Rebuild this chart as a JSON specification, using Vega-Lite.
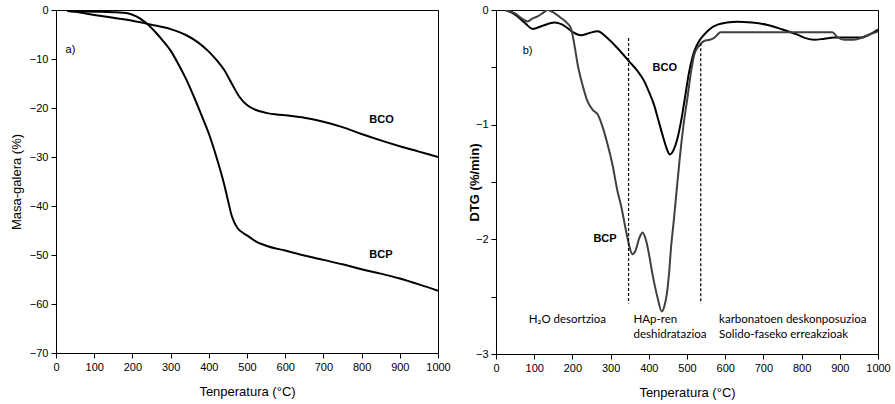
{
  "$schema": "https://vega.github.io/schema/vega-lite/v6.json",
  "background": "white",
  "padding": {"left": 9, "top": 3, "right": 5, "bottom": 2},
  "bounds": "flush",
  "spacing": 58,
  "config": {
    "view": {"stroke": "black", "strokeWidth": 1},
    "axis": {
      "labelFont": "Liberation Sans", "labelFontSize": 11, "labelColor": "black", "labelOverlap": false, "labelFlush": false,
      "titleFont": "Liberation Sans", "titleFontSize": 13, "titleColor": "black", "titleFontWeight": "normal",
      "domainColor": "black", "tickColor": "black", "tickSize": 5, "grid": false, "labelPadding": 3
    },
    "text": {"font": "Liberation Sans", "fontSize": 11, "color": "black"}
  },
  "datasets": {
    "tg": [
      {"T": 30, "v": -0.2, "s": "BCO"}, {"T": 50, "v": -0.35, "s": "BCO"}, {"T": 100, "v": -1.0, "s": "BCO"},
      {"T": 150, "v": -1.6, "s": "BCO"}, {"T": 200, "v": -2.2, "s": "BCO"}, {"T": 250, "v": -3.0, "s": "BCO"},
      {"T": 300, "v": -3.9, "s": "BCO"}, {"T": 340, "v": -5.1, "s": "BCO"}, {"T": 370, "v": -6.5, "s": "BCO"},
      {"T": 400, "v": -8.5, "s": "BCO"}, {"T": 420, "v": -10.2, "s": "BCO"}, {"T": 440, "v": -12.2, "s": "BCO"},
      {"T": 460, "v": -15.0, "s": "BCO"}, {"T": 480, "v": -17.7, "s": "BCO"}, {"T": 500, "v": -19.4, "s": "BCO"},
      {"T": 520, "v": -20.3, "s": "BCO"}, {"T": 550, "v": -21.0, "s": "BCO"}, {"T": 600, "v": -21.5, "s": "BCO"},
      {"T": 650, "v": -22.0, "s": "BCO"}, {"T": 700, "v": -22.8, "s": "BCO"}, {"T": 750, "v": -23.9, "s": "BCO"},
      {"T": 800, "v": -25.3, "s": "BCO"}, {"T": 850, "v": -26.6, "s": "BCO"}, {"T": 900, "v": -27.8, "s": "BCO"},
      {"T": 950, "v": -28.9, "s": "BCO"}, {"T": 1000, "v": -30.0, "s": "BCO"},
      {"T": 30, "v": -0.2, "s": "BCP"}, {"T": 100, "v": -0.35, "s": "BCP"}, {"T": 150, "v": -0.45, "s": "BCP"},
      {"T": 190, "v": -0.7, "s": "BCP"}, {"T": 210, "v": -1.3, "s": "BCP"}, {"T": 225, "v": -2.0, "s": "BCP"},
      {"T": 240, "v": -2.9, "s": "BCP"}, {"T": 260, "v": -4.5, "s": "BCP"}, {"T": 280, "v": -6.3, "s": "BCP"},
      {"T": 300, "v": -8.3, "s": "BCP"}, {"T": 320, "v": -11.0, "s": "BCP"}, {"T": 340, "v": -14.0, "s": "BCP"},
      {"T": 360, "v": -17.5, "s": "BCP"}, {"T": 380, "v": -21.3, "s": "BCP"}, {"T": 400, "v": -25.2, "s": "BCP"},
      {"T": 420, "v": -30.0, "s": "BCP"}, {"T": 440, "v": -35.5, "s": "BCP"}, {"T": 450, "v": -38.8, "s": "BCP"},
      {"T": 460, "v": -42.0, "s": "BCP"}, {"T": 475, "v": -44.5, "s": "BCP"}, {"T": 490, "v": -45.5, "s": "BCP"},
      {"T": 500, "v": -46.0, "s": "BCP"}, {"T": 525, "v": -47.3, "s": "BCP"}, {"T": 550, "v": -48.1, "s": "BCP"},
      {"T": 600, "v": -49.1, "s": "BCP"}, {"T": 650, "v": -50.1, "s": "BCP"}, {"T": 700, "v": -51.0, "s": "BCP"},
      {"T": 750, "v": -51.9, "s": "BCP"}, {"T": 800, "v": -52.9, "s": "BCP"}, {"T": 850, "v": -53.8, "s": "BCP"},
      {"T": 900, "v": -54.8, "s": "BCP"}, {"T": 950, "v": -56.0, "s": "BCP"}, {"T": 1000, "v": -57.3, "s": "BCP"}
    ],
    "dtg": [
      {"T": 25, "v": 0, "s": "BCO"}, {"T": 50, "v": -0.04, "s": "BCO"}, {"T": 75, "v": -0.11, "s": "BCO"},
      {"T": 96, "v": -0.165, "s": "BCO"}, {"T": 120, "v": -0.14, "s": "BCO"}, {"T": 153, "v": -0.11, "s": "BCO"},
      {"T": 180, "v": -0.14, "s": "BCO"}, {"T": 200, "v": -0.19, "s": "BCO"}, {"T": 222, "v": -0.22, "s": "BCO"},
      {"T": 245, "v": -0.2, "s": "BCO"}, {"T": 266, "v": -0.186, "s": "BCO"}, {"T": 290, "v": -0.24, "s": "BCO"},
      {"T": 320, "v": -0.34, "s": "BCO"}, {"T": 349, "v": -0.45, "s": "BCO"}, {"T": 370, "v": -0.53, "s": "BCO"},
      {"T": 388, "v": -0.62, "s": "BCO"}, {"T": 400, "v": -0.71, "s": "BCO"}, {"T": 414, "v": -0.83, "s": "BCO"},
      {"T": 425, "v": -0.96, "s": "BCO"}, {"T": 436, "v": -1.09, "s": "BCO"}, {"T": 446, "v": -1.2, "s": "BCO"},
      {"T": 455, "v": -1.26, "s": "BCO"}, {"T": 465, "v": -1.22, "s": "BCO"}, {"T": 475, "v": -1.12, "s": "BCO"},
      {"T": 485, "v": -0.96, "s": "BCO"}, {"T": 493, "v": -0.8, "s": "BCO"}, {"T": 505, "v": -0.55, "s": "BCO"},
      {"T": 519, "v": -0.36, "s": "BCO"}, {"T": 532, "v": -0.27, "s": "BCO"}, {"T": 545, "v": -0.215, "s": "BCO"},
      {"T": 560, "v": -0.165, "s": "BCO"}, {"T": 580, "v": -0.128, "s": "BCO"}, {"T": 605, "v": -0.108, "s": "BCO"},
      {"T": 632, "v": -0.102, "s": "BCO"}, {"T": 670, "v": -0.11, "s": "BCO"}, {"T": 711, "v": -0.13, "s": "BCO"},
      {"T": 750, "v": -0.17, "s": "BCO"}, {"T": 789, "v": -0.215, "s": "BCO"}, {"T": 810, "v": -0.245, "s": "BCO"},
      {"T": 833, "v": -0.26, "s": "BCO"}, {"T": 860, "v": -0.25, "s": "BCO"}, {"T": 885, "v": -0.24, "s": "BCO"},
      {"T": 920, "v": -0.24, "s": "BCO"}, {"T": 955, "v": -0.24, "s": "BCO"}, {"T": 980, "v": -0.21, "s": "BCO"},
      {"T": 1000, "v": -0.17, "s": "BCO"},
      {"T": 25, "v": 0, "s": "BCP"}, {"T": 50, "v": -0.03, "s": "BCP"}, {"T": 70, "v": -0.08, "s": "BCP"},
      {"T": 83, "v": -0.1, "s": "BCP"}, {"T": 95, "v": -0.075, "s": "BCP"}, {"T": 109, "v": -0.055, "s": "BCP"},
      {"T": 125, "v": -0.02, "s": "BCP"}, {"T": 135, "v": 0, "s": "BCP"}, {"T": 150, "v": -0.02, "s": "BCP"},
      {"T": 170, "v": -0.07, "s": "BCP"}, {"T": 185, "v": -0.11, "s": "BCP"}, {"T": 196, "v": -0.157, "s": "BCP"},
      {"T": 205, "v": -0.3, "s": "BCP"}, {"T": 214, "v": -0.48, "s": "BCP"}, {"T": 227, "v": -0.66, "s": "BCP"},
      {"T": 240, "v": -0.8, "s": "BCP"}, {"T": 253, "v": -0.87, "s": "BCP"}, {"T": 266, "v": -0.91, "s": "BCP"},
      {"T": 280, "v": -1.03, "s": "BCP"}, {"T": 292, "v": -1.17, "s": "BCP"}, {"T": 305, "v": -1.35, "s": "BCP"},
      {"T": 318, "v": -1.58, "s": "BCP"}, {"T": 327, "v": -1.7, "s": "BCP"}, {"T": 340, "v": -1.92, "s": "BCP"},
      {"T": 349, "v": -2.06, "s": "BCP"}, {"T": 357, "v": -2.13, "s": "BCP"}, {"T": 365, "v": -2.1, "s": "BCP"},
      {"T": 375, "v": -1.99, "s": "BCP"}, {"T": 384, "v": -1.94, "s": "BCP"}, {"T": 392, "v": -2.0, "s": "BCP"},
      {"T": 400, "v": -2.12, "s": "BCP"}, {"T": 410, "v": -2.31, "s": "BCP"}, {"T": 423, "v": -2.51, "s": "BCP"},
      {"T": 434, "v": -2.63, "s": "BCP"}, {"T": 441, "v": -2.58, "s": "BCP"}, {"T": 447, "v": -2.48, "s": "BCP"},
      {"T": 453, "v": -2.3, "s": "BCP"}, {"T": 458, "v": -2.08, "s": "BCP"}, {"T": 465, "v": -1.85, "s": "BCP"},
      {"T": 471, "v": -1.64, "s": "BCP"}, {"T": 484, "v": -1.2, "s": "BCP"}, {"T": 493, "v": -0.95, "s": "BCP"},
      {"T": 501, "v": -0.77, "s": "BCP"}, {"T": 510, "v": -0.55, "s": "BCP"}, {"T": 519, "v": -0.39, "s": "BCP"},
      {"T": 532, "v": -0.31, "s": "BCP"}, {"T": 545, "v": -0.27, "s": "BCP"}, {"T": 560, "v": -0.26, "s": "BCP"},
      {"T": 571, "v": -0.244, "s": "BCP"}, {"T": 588, "v": -0.195, "s": "BCP"}, {"T": 620, "v": -0.195, "s": "BCP"},
      {"T": 700, "v": -0.195, "s": "BCP"}, {"T": 800, "v": -0.195, "s": "BCP"}, {"T": 880, "v": -0.195, "s": "BCP"},
      {"T": 895, "v": -0.24, "s": "BCP"}, {"T": 911, "v": -0.26, "s": "BCP"}, {"T": 935, "v": -0.26, "s": "BCP"},
      {"T": 955, "v": -0.244, "s": "BCP"}, {"T": 980, "v": -0.21, "s": "BCP"}, {"T": 1000, "v": -0.186, "s": "BCP"}
    ]
  },
  "hconcat": [
    {
      "width": 382, "height": 343,
      "encoding": {
        "x": {"field": "T", "type": "quantitative", "scale": {"domain": [0, 1000], "nice": false},
              "axis": {"title": "Tenperatura  (°C)", "values": [0,100,200,300,400,500,600,700,800,900,1000], "format": "d", "labelOverlap": false, "titlePadding": 13}},
        "y": {"field": "v", "type": "quantitative", "scale": {"domain": [-70, 0], "nice": false},
              "axis": {"title": "Masa-galera (%)", "values": [-70,-60,-50,-40,-30,-20,-10,0], "format": "d", "labelOverlap": false, "titlePadding": 6}}
      },
      "layer": [
        {
          "data": {"name": "tg"},
          "mark": {"type": "line", "interpolate": "monotone", "strokeWidth": 2, "color": "black", "clip": true},
          "encoding": {"detail": {"field": "s"}}
        },
        {
          "data": {"values": [{"T": 25, "v": -8.2, "t": "a)"}]},
          "mark": {"type": "text", "align": "left", "baseline": "middle"},
          "encoding": {"text": {"field": "t"}}
        },
        {
          "data": {"values": [
            {"T": 820, "v": -22.4, "t": "BCO"},
            {"T": 820, "v": -50.0, "t": "BCP"}
          ]},
          "mark": {"type": "text", "align": "left", "baseline": "middle", "fontWeight": "bold"},
          "encoding": {"text": {"field": "t"}}
        }
      ]
    },
    {
      "width": 382, "height": 344,
      "encoding": {
        "x": {"field": "T", "type": "quantitative", "scale": {"domain": [0, 1000], "nice": false},
              "axis": {"title": "Tenperatura  (°C)", "values": [0,100,200,300,400,500,600,700,800,900,1000], "format": "d", "labelOverlap": false, "titlePadding": 13}},
        "y": {"field": "v", "type": "quantitative", "scale": {"domain": [-3, 0], "nice": false},
              "axis": {"title": "DTG (%/min)", "titleFontWeight": "bold", "values": [-3,-2.5,-2,-1.5,-1,-0.5,0], "labelOverlap": false,
                       "labelExpr": "datum.value % 1 == 0 ? format(datum.value, 'd') : ''", "titlePadding": -6}}
      },
      "layer": [
        {
          "data": {"name": "dtg"},
          "mark": {"type": "line", "interpolate": "monotone", "strokeWidth": 2, "clip": true},
          "encoding": {
            "color": {"field": "s", "type": "nominal", "scale": {"domain": ["BCO", "BCP"], "range": ["#000000", "#404040"]}, "legend": null}
          }
        },
        {
          "data": {"values": [
            {"T": 347, "v": -0.244, "v2": -2.56},
            {"T": 536, "v": -0.29, "v2": -2.56}
          ]},
          "mark": {"type": "rule", "strokeDash": [3, 2], "strokeWidth": 1.2, "color": "black"},
          "encoding": {"y2": {"field": "v2"}}
        },
        {
          "data": {"values": [{"T": 70, "v": -0.36, "t": "b)"}]},
          "mark": {"type": "text", "align": "left", "baseline": "middle"},
          "encoding": {"text": {"field": "t"}}
        },
        {
          "data": {"values": [
            {"T": 410, "v": -0.51, "t": "BCO"},
            {"T": 255, "v": -2.0, "t": "BCP"}
          ]},
          "mark": {"type": "text", "align": "left", "baseline": "middle", "fontWeight": "bold"},
          "encoding": {"text": {"field": "t"}}
        },
        {
          "data": {"values": [
            {"T": 360, "v": -2.70, "t": "HAp-ren"},
            {"T": 360, "v": -2.83, "t": "deshidratazioa"},
            {"T": 584, "v": -2.70, "t": "karbonatoen deskonposuzioa"},
            {"T": 584, "v": -2.83, "t": "Solido-faseko erreakzioak"}
          ]},
          "mark": {"type": "text", "align": "left", "baseline": "middle", "font": "Lato", "fontSize": 11.5},
          "encoding": {"text": {"field": "t"}}
        },
        {
          "data": {"values": [{"T": 187, "v": -2.70, "t": "H₂O desortzioa"}]},
          "mark": {"type": "text", "align": "center", "baseline": "middle", "font": "Lato", "fontSize": 11.5},
          "encoding": {"text": {"field": "t"}}
        }
      ]
    }
  ]
}
